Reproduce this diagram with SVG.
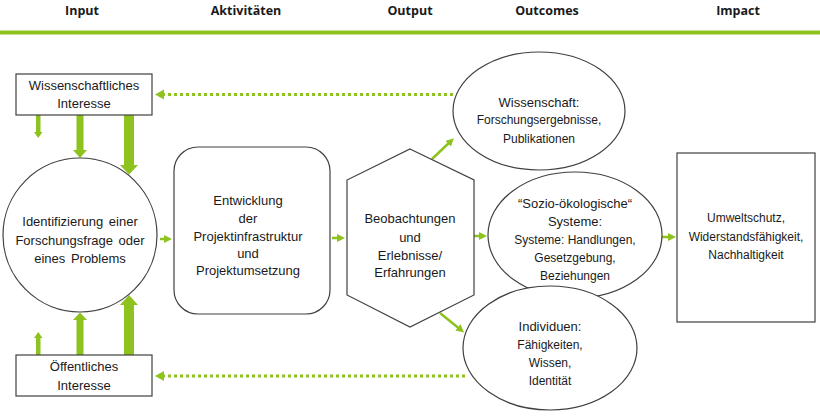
<svg xmlns="http://www.w3.org/2000/svg" width="820" height="417" viewBox="0 0 820 417">
<defs>
<style>
.hd{font-family:"Open Sans","Liberation Sans",sans-serif;font-weight:bold;font-size:12.5px;fill:#1a1a1a;text-anchor:middle}
.t{font-family:"Liberation Sans",Arial,sans-serif;font-size:13px;fill:#1a1a1a;text-anchor:middle}
.s{font-family:"Liberation Sans",Arial,sans-serif;font-size:12px;fill:#1a1a1a;text-anchor:middle}
.n{fill:#fff;stroke:#404040;stroke-width:1.2}
.g{fill:#8dc21f}
.ln{stroke:#8dc21f;stroke-width:2.5;fill:none}
.dot{stroke:#8dc21f;stroke-width:3;fill:none;stroke-dasharray:3 3}
</style>
<marker id="ah" markerWidth="8" markerHeight="8" refX="4" refY="4" orient="auto" markerUnits="userSpaceOnUse">
<path d="M0,0 L8,4 L0,8 Z" fill="#8dc21f"/>
</marker>
</defs>
<rect width="820" height="417" fill="#fff"/>
<g id="header">
<text class="hd" x="82" y="15">Input</text>
<text class="hd" x="246" y="15">Aktivitäten</text>
<text class="hd" x="410" y="15">Output</text>
<text class="hd" x="547" y="15">Outcomes</text>
<text class="hd" x="738" y="15">Impact</text>
<rect x="0" y="30.5" width="820" height="4" fill="#8dc21f"/>
</g>
<g id="connectors">
<polygon class="g" points="36,115 40.5,115 40.5,132 42.5,132 38.2,138 34,132 36,132"/>
<polygon class="g" points="76.5,115 83.5,115 83.5,150 87,150 80,158 73,150 76.5,150"/>
<polygon class="g" points="124,115 134,115 134,165 138,165 129,174.5 120,165 124,165"/>
<polygon class="g" points="36,355 40.5,355 40.5,338 42.5,338 38.2,332 34,338 36,338"/>
<polygon class="g" points="76.5,355 83.5,355 83.5,320 87,320 80,312.5 73,320 76.5,320"/>
<polygon class="g" points="124,355 134,355 134,305 138,305 129,295 120,305 124,305"/>
<line class="dot" x1="465" y1="94.5" x2="164" y2="94.5"/>
<polygon class="g" points="155,94.5 164,89.5 164,99.5"/>
<line class="dot" x1="465" y1="376" x2="164" y2="376"/>
<polygon class="g" points="155,376 164,371 164,381"/>
<line class="ln" x1="160" y1="239" x2="168" y2="239" marker-end="url(#ah)"/>
<line class="ln" x1="332" y1="238" x2="341" y2="238" marker-end="url(#ah)"/>
<line class="ln" x1="432" y1="159" x2="451" y2="141" marker-end="url(#ah)"/>
<line class="ln" x1="474" y1="236" x2="483" y2="236" marker-end="url(#ah)"/>
<line class="ln" x1="440" y1="313" x2="461" y2="330" marker-end="url(#ah)"/>
<line class="ln" x1="662" y1="237" x2="672" y2="237" marker-end="url(#ah)"/>
</g>
<g id="wiss-interesse">
<rect class="n" x="16" y="74" width="136" height="41"/>
<text class="t" x="84" y="90">Wissenschaftliches</text>
<text class="t" x="84" y="108">Interesse</text>
</g>
<g id="oeff-interesse">
<rect class="n" x="16" y="355" width="136" height="41"/>
<text class="t" x="84" y="371">Öffentliches</text>
<text class="t" x="84" y="390">Interesse</text>
</g>
<g id="identifizierung">
<circle class="n" cx="80" cy="235" r="77"/>
<text class="t" x="80" y="226" word-spacing="2">Identifizierung einer</text>
<text class="t" x="80" y="245" word-spacing="2">Forschungsfrage oder</text>
<text class="t" x="80" y="263" word-spacing="2">eines Problems</text>
</g>
<g id="entwicklung">
<rect class="n" x="174" y="147" width="156" height="167" rx="24"/>
<text class="t" x="248" y="205">Entwicklung</text>
<text class="t" x="248" y="223">der</text>
<text class="t" x="248" y="241">Projektinfrastruktur</text>
<text class="t" x="248" y="258">und</text>
<text class="t" x="248" y="275">Projektumsetzung</text>
</g>
<g id="beobachtungen">
<polygon class="n" points="410,149 474,180 474,295 410,327 347,295 347,180"/>
<text class="t" x="410" y="223">Beobachtungen</text>
<text class="t" x="410" y="242">und</text>
<text class="t" x="410" y="260">Erlebnisse/</text>
<text class="t" x="410" y="277">Erfahrungen</text>
</g>
<g id="wissenschaft">
<ellipse class="n" cx="539" cy="111" rx="86" ry="59"/>
<text class="t" x="539" y="107">Wissenschaft:</text>
<text class="s" x="539" y="124">Forschungsergebnisse,</text>
<text class="s" x="539" y="143">Publikationen</text>
</g>
<g id="sozio">
<ellipse class="n" cx="575" cy="235" rx="87" ry="63"/>
<text class="t" x="575" y="208">“Sozio-ökologische“</text>
<text class="t" x="575" y="226">Systeme:</text>
<text class="s" x="575" y="244">Systeme: Handlungen,</text>
<text class="s" x="575" y="262">Gesetzgebung,</text>
<text class="s" x="575" y="280">Beziehungen</text>
</g>
<g id="individuen">
<ellipse class="n" cx="550" cy="348" rx="87" ry="62"/>
<text class="t" x="550" y="331">Individuen:</text>
<text class="s" x="550" y="349">Fähigkeiten,</text>
<text class="s" x="550" y="367">Wissen,</text>
<text class="s" x="550" y="385">Identität</text>
</g>
<g id="impact">
<rect class="n" x="677" y="153" width="138" height="169"/>
<text class="s" x="746" y="222">Umweltschutz,</text>
<text class="s" x="746" y="241">Widerstandsfähigkeit,</text>
<text class="s" x="746" y="259">Nachhaltigkeit</text>
</g>
</svg>
